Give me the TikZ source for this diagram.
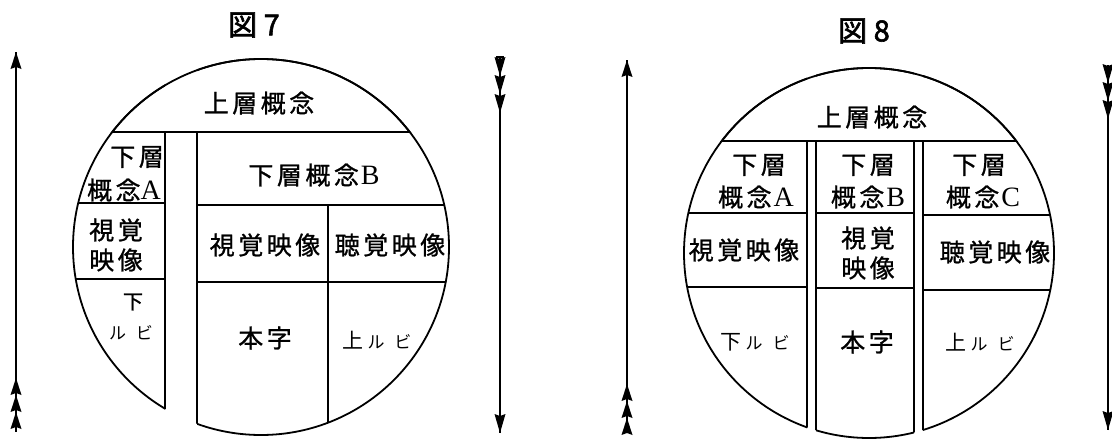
\documentclass[tikz,border=0pt]{standalone}
\usepackage{fontspec}
\setmainfont{Liberation Serif}
\newfontfamily\cjk[LetterSpace=14,FakeBold=1]{Noto Sans CJK JP}
\newfontfamily\cjkr{Noto Sans CJK JP}
\newfontfamily\cjkt[FakeBold=2]{Noto Sans CJK JP}
\newcommand\lat[1]{{\rmfamily\fontsize{28}{28}\selectfont #1}}
\tikzset{
  ln/.style={line width=1.8pt},
  lbl/.style={font={\cjk\fontsize{25}{26}\selectfont}, inner sep=0pt},
  mid/.style={font={\cjk\fontsize{20}{20}\selectfont}, inner sep=0pt},
  ruby/.style={font={\cjkr\fontsize{17}{18}\selectfont}, inner sep=0pt},
  ttl/.style={font={\cjkt\fontsize{29}{30}\selectfont}, inner sep=0pt},
  uptip/.pic={\fill (0,0) -- (5.5,17) -- (0,15) -- (-5.5,17) -- cycle;},
  downtip/.pic={\fill (0,0) -- (5.5,-19) -- (0,-17) -- (-5.5,-19) -- cycle;},
}
\begin{document}
\begin{tikzpicture}[x=1pt,y=-1pt]
\useasboundingbox (0,0) rectangle (1112,439);
\fill[white] (0,0) rectangle (1112,439);

% ================= Figure 7 =================
\coordinate (c7) at (261,247);
\begin{scope}\clip (0,0) rectangle (165,439); \draw[ln] (c7) circle[radius=188pt];\end{scope}
\begin{scope}\clip (197,0) rectangle (560,439); \draw[ln] (c7) circle[radius=188pt];\end{scope}
\begin{scope}\clip (0,0) rectangle (560,132); \draw[ln] (c7) circle[radius=188pt];\end{scope}
\begin{scope}
  \clip (c7) circle[radius=188pt];
  \draw[ln] (0,132) -- (560,132);
  \draw[ln] (165,132) -- (165,439);
  \draw[ln] (0,203) -- (165,203);
  \draw[ln] (0,279) -- (165,279);
  \draw[ln] (197,132) -- (197,439);
  \draw[ln] (197,205) -- (560,205);
  \draw[ln] (197,282) -- (560,282);
  \draw[ln] (328,205) -- (328,439);
\end{scope}

\node[ttl] (t7) at (254,25) {図 7};
\node[lbl] (u7) at (259,103) {上層概念};
\node[lbl] (a7a) at (137,157) {下層};
\node[lbl] (a7b) at (124,190) {概念\lat{A}};
\node[lbl] (a7c) at (116,230) {視覚};
\node[lbl] (a7d) at (116,260) {映像};
\node[mid] (a7e) at (133,302) {下};
\node[ruby] (a7f) at (131,333) {ル\hspace{10pt}ビ};
\node[lbl] (b7a) at (314,175) {下層概念\hspace{2pt}\lat{B}};
\node[lbl] (b7b) at (265,245) {視覚映像};
\node[lbl] (b7c) at (390,245) {聴覚映像};
\node[lbl] (b7d) at (265,338) {本字};
\node[ruby] (b7e) at (377,340) {{\fontsize{21}{21}\selectfont 上}\hspace{4pt}ル\hspace{10pt}ビ};

% arrows figure 7
\coordinate (l7t) at (16,52);
\coordinate (l7b) at (16,432);
\draw[ln] (l7t) -- (l7b);
\pic at (l7t) {uptip};
\pic at (16,378) {uptip};
\pic at (16,395) {uptip};
\pic at (16,412) {uptip};
\coordinate (r7t) at (500,57);
\coordinate (r7b) at (500,433);
\draw[ln] (r7t) -- (r7b);
\draw[ln] (496,57) -- (504,57);
\pic at (500,76) {downtip};
\pic at (500,94) {downtip};
\pic at (500,113) {downtip};
\pic at (r7b) {downtip};

% ================= Figure 8 =================
\coordinate (c8) at (869,253);
\begin{scope}\clip (560,0) rectangle (807,439); \draw[ln] (c8) circle[radius=185pt];\end{scope}
\begin{scope}\clip (816,0) rectangle (914,439); \draw[ln] (c8) circle[radius=185pt];\end{scope}
\begin{scope}\clip (923,0) rectangle (1112,439); \draw[ln] (c8) circle[radius=185pt];\end{scope}
\begin{scope}\clip (560,0) rectangle (1112,141); \draw[ln] (c8) circle[radius=185pt];\end{scope}
\begin{scope}
  \clip (c8) circle[radius=185pt];
  \draw[ln] (560,141) -- (1112,141);
  \draw[ln] (807,141) -- (807,439);
  \draw[ln] (816,141) -- (816,439);
  \draw[ln] (914,141) -- (914,439);
  \draw[ln] (923,141) -- (923,439);
  \draw[ln] (560,213) -- (807,213);
  \draw[ln] (560,287) -- (807,287);
  \draw[ln] (816,213) -- (914,213);
  \draw[ln] (816,288) -- (914,288);
  \draw[ln] (923,215) -- (1112,215);
  \draw[ln] (923,290) -- (1112,290);
\end{scope}

\node[ttl] (t8) at (864,31) {図 8};
\node[lbl] (u8) at (872,117) {上層概念};
\node[lbl] (a8a) at (759,165) {下層};
\node[lbl] (a8b) at (756,197) {概念\hspace{2pt}\lat{A}};
\node[lbl] (a8c) at (744,250) {視覚映像};
\node[ruby] (a8d) at (755,342) {{\fontsize{21}{21}\selectfont 下}\hspace{4pt}ル\hspace{10pt}ビ};
\node[lbl] (m8a) at (868,165) {下層};
\node[lbl] (m8b) at (868,197) {概念\hspace{2pt}\lat{B}};
\node[lbl] (m8c) at (868,238) {視覚};
\node[lbl] (m8d) at (868,268) {映像};
\node[lbl] (m8e) at (867,342) {本字};
\node[lbl] (c8a) at (979,165) {下層};
\node[lbl] (c8b) at (983,197) {概念\hspace{2pt}\lat{C}};
\node[lbl] (c8c) at (995,252) {聴覚映像};
\node[ruby] (c8d) at (980,342) {{\fontsize{21}{21}\selectfont 上}\hspace{4pt}ル\hspace{10pt}ビ};

% arrows figure 8
\coordinate (l8t) at (627,60);
\coordinate (l8b) at (627,433);
\draw[ln] (l8t) -- (l8b);
\pic at (l8t) {uptip};
\pic at (627,384) {uptip};
\pic at (627,401) {uptip};
\pic at (627,418) {uptip};
\coordinate (r8t) at (1108,65);
\coordinate (r8b) at (1108,430);
\draw[ln] (r8t) -- (r8b);
\pic at (1108,83) {downtip};
\pic at (1108,101) {downtip};
\pic at (1108,119) {downtip};
\pic at (r8b) {downtip};
\end{tikzpicture}
\end{document}
